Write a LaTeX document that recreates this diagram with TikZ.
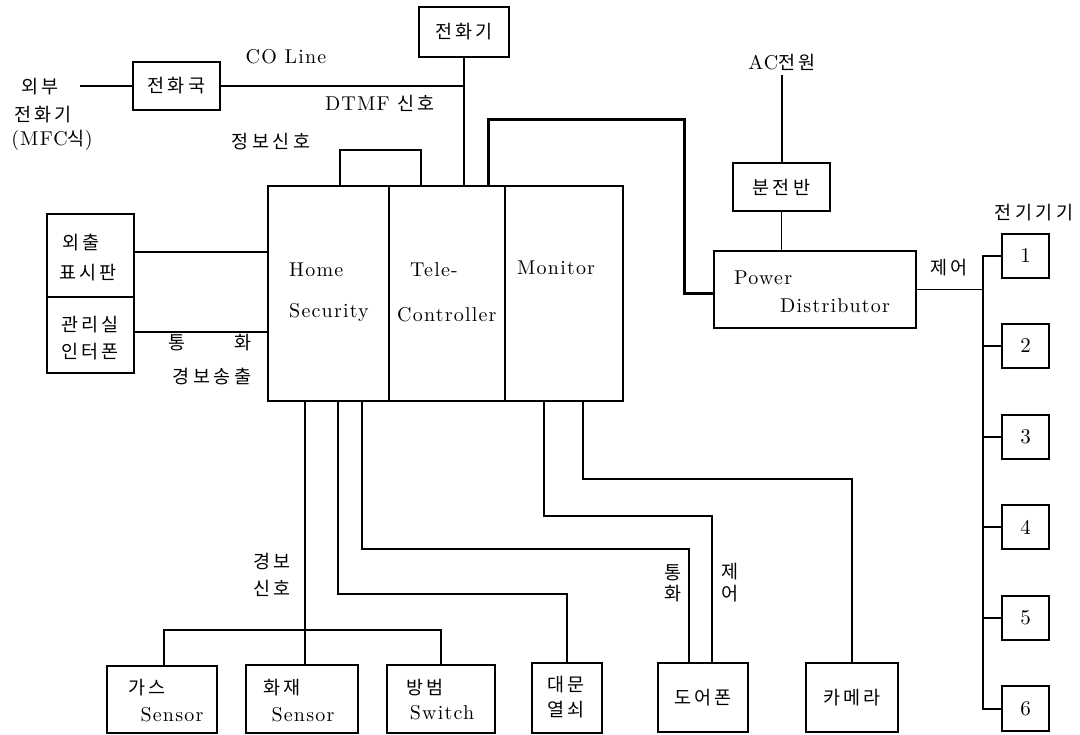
\documentclass[tikz,border=0pt]{standalone}
\usepackage{fontspec}
\newfontfamily\krfam{Noto Sans CJK KR}[LetterSpace=18]
\newfontfamily\latfam{lmroman10-regular.otf}[LetterSpace=6]
\newfontfamily\digfam{lmroman10-regular.otf}
\newcommand\latfont{\latfam\fontsize{20}{24}\selectfont}
\newcommand\korfont{\krfam\fontsize{18.5}{22}\selectfont}
\newcommand\digfont{\digfam\fontsize{21}{24}\selectfont}
\tikzset{
  box/.style={draw, line width=1.8pt, inner sep=0pt, outer sep=0pt, anchor=north west, font=\korfont},
  mainbox/.style={draw, line width=2.6pt, inner sep=0pt, outer sep=0pt, anchor=north west},
  wire/.style={line width=1.3pt},
  wirem/.style={line width=2pt},
  heavy/.style={line width=3pt, line join=miter},
  lt/.style={inner sep=0pt, font=\latfont},
  kt/.style={inner sep=0pt, font=\korfont},
}
\begin{document}
\begin{tikzpicture}[x=1pt,y=-1pt]
\useasboundingbox[fill=white] (0,0) rectangle (1080,735);

% ---------- boxes ----------
\node[box, minimum width=90pt, minimum height=50pt] (tel) at (419,7) {전화기};
\node[box, minimum width=87pt, minimum height=48pt] (co) at (133,62) {전화국};
\node[mainbox, minimum width=355pt, minimum height=215pt] (main) at (268,186) {};
\node[box, minimum width=87pt, minimum height=83pt] (out) at (47,214) {};
\node[box, minimum width=87pt, minimum height=76pt] (mgr) at (47,297) {};
\node[box, minimum width=97pt, minimum height=48pt] (panel) at (733,163) {분전반};
\node[box, minimum width=202pt, minimum height=77pt] (pd) at (714,251) {};
\node[box, font=\digfont, minimum width=47pt, minimum height=44pt] (e1) at (1002,234) {1};
\node[box, font=\digfont, minimum width=47pt, minimum height=44pt] (e2) at (1002,324) {2};
\node[box, font=\digfont, minimum width=47pt, minimum height=44pt] (e3) at (1002,415) {3};
\node[box, font=\digfont, minimum width=47pt, minimum height=44pt] (e4) at (1002,505) {4};
\node[box, font=\digfont, minimum width=47pt, minimum height=44pt] (e5) at (1002,596) {5};
\node[box, font=\digfont, minimum width=47pt, minimum height=45pt] (e6) at (1002,686) {6};
\node[box, minimum width=110pt, minimum height=67pt] (gas) at (107,666) {};
\node[box, minimum width=112pt, minimum height=68pt] (fire) at (246,665) {};
\node[box, minimum width=108pt, minimum height=68pt] (sec) at (387,665) {};
\node[box, minimum width=70pt, minimum height=70pt] (gate) at (532,663) {};
\node[box, minimum width=90pt, minimum height=69pt] (door) at (658,663) {도어폰};
\node[box, minimum width=92pt, minimum height=69pt] (cam) at (806,663) {카메라};

% main box dividers
\draw[wire] (main.north -| 389,0) -- (main.south -| 389,0);
\draw[wire] (main.north -| 505,0) -- (main.south -| 505,0);

% ---------- texts ----------
\node[kt] (ext1) at (40,87) {외부};
\node[kt] (ext2) at (43,115) {전화기};
\node[lt] (ext3) at (52,140) {(MFC{\korfont 식})};
\node[lt] (coline) at (286,57) {CO Line};
\node[lt] (dtmf) at (380,103) {DTMF {\korfont 신호}};
\node[kt] (info) at (271,142) {정보신호};
\node[lt, anchor=west] (home) at (289,270) {Home};
\node[lt, anchor=west] (secur) at (289,313) {Security};
\node[lt, anchor=west] (tele) at (410,270) {Tele-};
\node[lt, anchor=west] (ctrl) at (397,315) {Controller};
\node[lt, anchor=west] (moni) at (517,268) {Monitor};
\node[kt, anchor=west] (o1) at (62,243) {외출};
\node[kt, anchor=west] (o2) at (59,273) {표시판};
\node[kt, anchor=west] (m1) at (61,325) {관리실};
\node[kt, anchor=west] (m2) at (61,352) {인터폰};
\node[kt] (tong) at (177,343) {통};
\node[kt] (hwa) at (243,343) {화};
\node[kt] (alarmout) at (212,377) {경보송출};
\node[lt, anchor=west] (pw) at (734,278) {Power};
\node[lt, anchor=west] (dist) at (780,306) {Distributor};
\node[lt] (ac) at (782,62) {AC{\korfont 전원}};
\node[kt] (ctl) at (949,268) {제어};
\node[kt] (elec) at (1034,213) {전기기기};
\node[kt] (al1) at (272,562) {경보};
\node[kt] (al2) at (272,588) {신호};
\node[kt] (v1) at (673,573) {통};
\node[kt] (v2) at (673,594) {화};
\node[kt] (v3) at (730,572) {제};
\node[kt] (v4) at (730,594) {어};
\node[kt, anchor=west] (g1) at (128,688) {가스};
\node[lt] (g2) at (172,715) {Sensor};
\node[kt, anchor=west] (f1) at (263,688) {화재};
\node[lt] (f2) at (303,715) {Sensor};
\node[kt, anchor=west] (s1) at (406,688) {방범};
\node[lt] (s2) at (442,713) {Switch};
\node[kt] (d1) at (566,685) {대문};
\node[kt] (d2) at (566,710) {열쇠};

% ---------- connectors ----------
\coordinate (extend) at (80,86);
\draw[wirem] (extend) -- (co.west);
\draw[wirem] (co.east) -- (co.east -| tel.south);
\draw[wire] (tel.south) -- (tel.south |- main.north);
\draw[wire] (main.north -| 340,0) -- (340,150) -- (421,150) -- (main.north -| 421,0);
\draw[heavy] (main.north -| 488,0) -- (488,120) -- (684,120) -- (684,294) -- (pd.west |- 0,294);

\draw[wire] (ac.south |- 0,75) -- (ac.south |- panel.north);
\draw[wire] (panel.south) -- (panel.south |- pd.north);

\coordinate (bus) at (983,0);
\draw[wire] (pd.east) -- (pd.east -| bus);
\draw[wirem] (e1.west) -- (e1.west -| bus) -- (e6.west -| bus) -- (e6.west);
\draw[wire] (e2.west -| bus) -- (e2.west);
\draw[wirem] (e3.west -| bus) -- (e3.west);
\draw[wire] (e4.west -| bus) -- (e4.west);
\draw[wire] (e5.west -| bus) -- (e5.west);

\draw[wire] (out.east |- 0,252) -- (main.west |- 0,252);
\draw[wire] (mgr.east |- 0,332) -- (main.west |- 0,332);

\draw[wire] (main.south -| 305,0) -- (fire.north -| 305,0);
\draw[wire] (gas.north -| 164,0) -- (164,630) -- (441,630) -- (sec.north -| 441,0);
\draw[wire] (main.south -| 338,0) |- (gate.north |- 0,594) -- (gate.north);
\draw[wire] (main.south -| 362,0) |- (689,549) -- (door.north -| 689,0);
\draw[wire] (main.south -| 544,0) |- (712,516) -- (door.north -| 712,0);
\draw[wire] (main.south -| 583,0) |- (cam.north |- 0,479) -- (cam.north);
\end{tikzpicture}
\end{document}
